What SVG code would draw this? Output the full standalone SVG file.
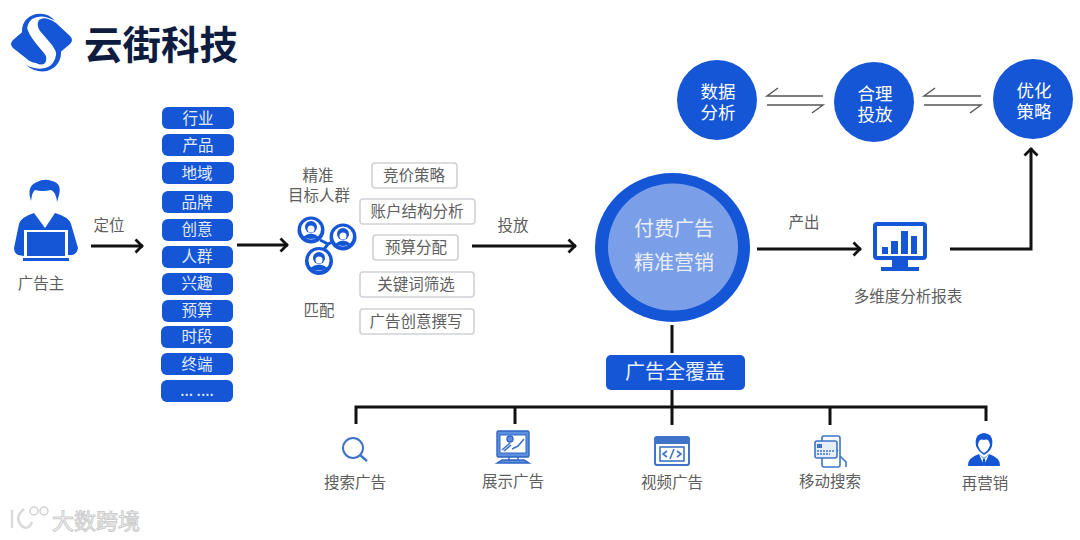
<svg xmlns="http://www.w3.org/2000/svg" width="1080" height="540" viewBox="0 0 1080 540">
<style>
text{font-family:"Noto Sans CJK SC","Noto Sans",sans-serif;text-anchor:middle}
.g{font-size:15.5px;fill:#5e5e5e}
.p{fill:#1456d6}
.pt{font-size:15.5px;fill:#e4ecfb}
.b{fill:#fff;stroke:#cfd2d6;stroke-width:1.6}
text.w{font-family:"Liberation Sans","Noto Sans CJK SC",sans-serif;font-size:17.5px;fill:#fff}
.c{fill:none;stroke:#111;stroke-width:3}
.t{fill:none;stroke:#555;stroke-width:1.4}
.i{fill:none;stroke:#3f73c8;stroke-width:1.6}
.l{fill:#5c8fe0;stroke:#2f66c4;stroke-width:1.4}
</style>
<defs>
<marker id="ah" markerUnits="userSpaceOnUse" markerWidth="16" markerHeight="16" refX="12.5" refY="8" orient="auto"><path d="M5 1.5 L11.5 8 L5 14.5" fill="none" stroke="#111" stroke-width="2.8"/></marker>
</defs>
<rect width="1080" height="540" fill="#fff"/>

<g id="logo">
<path class="p" d="M11 44 Q11 42 13 40 L27 28 Q29 34 32 38 Q36 44 44 53 Q48 58 45 63 Q42 66 36 63 Q30 62 27 59 L13 48 Q11 46 11 44Z"/>
<path class="p" d="M72 40 Q72 42 70 44 L57 55 Q55 49 52 45 Q47 39 40 31 Q36 25 39 20 Q43 17 48 19 Q52 20 56 23 L70 36 Q72 38 72 40Z"/>
<path class="p" d="M22 34 Q21 18 36 14 Q48 12 55 21 Q42 13 32 19 Q26 24 27 34Z"/>
<path class="p" d="M61 50 Q62 66 47 71 Q35 73 26 65 Q40 72 50 66 Q57 60 56 50Z"/>
<text x="161" y="59" font-size="38.5" font-weight="700" fill="#0e1c3f">云街科技</text>
</g>

<g id="connectors">
<path class="c" marker-end="url(#ah)" d="M91 246H143"/>
<path class="c" marker-end="url(#ah)" d="M237 245H288"/>
<path class="c" marker-end="url(#ah)" d="M472 246H576"/>
<path class="c" marker-end="url(#ah)" d="M757 249H861"/>
<path class="c" marker-end="url(#ah)" d="M950 249H1031V148"/>
<path class="c" d="M672 325V353M672 389V407M356 424V407H986V421M515 407V424M672 407V425M830 407V425"/>
<path class="t" d="M778 88L767 96H823M767 105H823L812 113"/>
<path class="t" d="M935 88L924 96H981M924 105H981L970 113"/>
</g>

<g id="advertiser">
<path class="p" d="M31 201 Q26 186 37 182 Q44 178 52 181 Q62 183 59 195 L57 202 Q56 192 51 190 Q42 192 35 190 Q32 192 31 201Z"/>
<path class="p" d="M14 248 L19 224 Q21 217 34 213 L45 228 L55 213 Q69 217 71 224 L78 248 Q77 254 72 255 L68 255 L68 230 L24 230 L24 256 L18 255 Q14 253 14 248Z"/>
<rect class="p" x="27" y="232" width="38" height="24"/>
<rect class="p" x="23" y="258" width="46" height="3"/>
<text class="g" x="41" y="289">广告主</text>
</g>
<text class="g" x="109" y="231">定位</text>

<g id="tags">
<rect class="p" x="162" y="107" width="72" height="22" rx="6"/><text class="pt" x="198" y="124">行业</text>
<rect class="p" x="162" y="134" width="72" height="22" rx="6"/><text class="pt" x="198" y="151">产品</text>
<rect class="p" x="162" y="162" width="72" height="22" rx="6"/><text class="pt" x="197" y="179">地域</text>
<rect class="p" x="162" y="191" width="71" height="22" rx="6"/><text class="pt" x="197" y="208">品牌</text>
<rect class="p" x="162" y="219" width="71" height="22" rx="6"/><text class="pt" x="197" y="235">创意</text>
<rect class="p" x="162" y="246" width="71" height="22" rx="6"/><text class="pt" x="197" y="262">人群</text>
<rect class="p" x="162" y="273" width="71" height="22" rx="6"/><text class="pt" x="197" y="289">兴趣</text>
<rect class="p" x="162" y="300" width="71" height="22" rx="6"/><text class="pt" x="197" y="316">预算</text>
<rect class="p" x="161" y="326" width="72" height="22" rx="6"/><text class="pt" x="197" y="342">时段</text>
<rect class="p" x="161" y="353" width="72" height="22" rx="6"/><text class="pt" x="197" y="370">终端</text>
<rect class="p" x="161" y="380" width="72" height="22" rx="6"/><text class="pt" x="197" y="396" font-size="14">... ....</text>
</g>

<g id="audience">
<text class="g" x="318" y="181">精准</text>
<text class="g" x="319" y="201">目标人群</text>
<path d="M320 240L328 244L336 240M328 244L322 252" stroke="#1456d6" stroke-width="3" fill="none"/>
<g id="person-a"><circle class="p" cx="311" cy="230" r="13.5"/><circle cx="311" cy="229.500" r="10" fill="#fff"/><circle class="p" cx="311" cy="227" r="6"/><circle cx="311" cy="229" r="3.500" fill="#fff"/><path class="p" d="M303 237Q311 230 319 237Q311 241 303 237Z"/></g>
<g id="person-b"><circle class="p" cx="343" cy="237" r="13.5"/><circle cx="343" cy="236.500" r="10" fill="#fff"/><circle class="p" cx="343" cy="234" r="6"/><circle cx="343" cy="236" r="3.500" fill="#fff"/><path class="p" d="M335 244Q343 237 351 244Q343 248 335 244Z"/></g>
<g id="person-c"><circle class="p" cx="319" cy="261" r="14"/><circle cx="319" cy="260.500" r="10.500" fill="#fff"/><circle class="p" cx="319" cy="258" r="6"/><circle cx="319" cy="260" r="3.500" fill="#fff"/><path class="p" d="M310 268Q319 261 328 268Q319 273 310 268Z"/></g>
<text class="g" x="319" y="316">匹配</text>
</g>

<g id="strategies">
<rect class="b" x="372" y="163" width="85" height="25" rx="3"/><text class="g" x="414" y="181">竞价策略</text>
<rect class="b" x="360" y="199" width="115" height="25" rx="3"/><text class="g" x="417" y="217">账户结构分析</text>
<rect class="b" x="373" y="235" width="85" height="25" rx="3"/><text class="g" x="416" y="253">预算分配</text>
<rect class="b" x="360" y="272" width="114" height="25" rx="3"/><text class="g" x="416" y="290">关键词筛选</text>
<rect class="b" x="360" y="309" width="114" height="25" rx="3"/><text class="g" x="416" y="327">广告创意撰写</text>
</g>
<text class="g" x="513" y="231">投放</text>

<g id="paid-ads">
<ellipse cx="672.500" cy="247.500" rx="77.500" ry="74.500" fill="#1456d6"/>
<ellipse cx="673" cy="247" rx="65" ry="63.500" fill="#7a9fe8"/>
<text x="674" y="236" font-size="20" fill="#e8eefb">付费广告</text>
<text x="674" y="270" font-size="20" fill="#e8eefb">精准营销</text>
</g>
<text class="g" x="804" y="228">产出</text>

<g id="report">
<rect x="875" y="224" width="50" height="34" rx="2" fill="#fff" stroke="#1456d6" stroke-width="4"/>
<rect class="p" x="882" y="247" width="6" height="7"/><rect class="p" x="891" y="241" width="7" height="13"/><rect class="p" x="901" y="231" width="7" height="23"/><rect class="p" x="911" y="236" width="6" height="18"/>
<rect class="p" x="892" y="260" width="16" height="7"/><rect class="p" x="881" y="267" width="38" height="4"/>
<text class="g" x="908" y="302">多维度分析报表</text>
</g>

<g id="data-analysis"><circle class="p" cx="717" cy="100" r="40"/><text class="w" x="718" y="98">数据</text><text class="w" x="718" y="119">分析</text></g>
<g id="placement"><circle class="p" cx="874" cy="102" r="40"/><text class="w" x="875" y="100">合理</text><text class="w" x="875" y="121">投放</text></g>
<g id="optimize"><circle class="p" cx="1033" cy="99" r="40"/><text class="w" x="1034" y="97">优化</text><text class="w" x="1034" y="118">策略</text></g>

<g id="coverage"><rect class="p" x="606" y="355" width="139" height="35" rx="5"/><text x="675" y="379" font-size="20" fill="#eaf0fc">广告全覆盖</text></g>

<g id="search"><circle cx="353" cy="448" r="10" fill="none" stroke="#3f73c8" stroke-width="2"/><path d="M360 455L367 461" stroke="#3f73c8" stroke-width="2.400"/><text class="g" x="355" y="488">搜索广告</text></g>
<g id="display">
<rect x="497" y="431" width="32" height="26" rx="1.500" class="l"/>
<rect x="500" y="435" width="26" height="18" fill="#fff" stroke="#2f66c4"/>
<circle cx="510" cy="439" r="3" class="l"/>
<path d="M502 450L510 443M504 451L511 445M512 449L518 446L524 439" class="i"/>
<path d="M509 457V460M518 457V460M497 463L502 460H524L529 463Z" class="l"/>
<text class="g" x="513" y="487">展示广告</text>
</g>
<g id="video">
<rect x="655" y="437" width="34" height="28" rx="2" fill="#fff" stroke="#3f73c8" stroke-width="2"/>
<path d="M655 441H689" stroke="#3f73c8" stroke-width="6"/>
<rect x="660" y="447" width="24" height="14" class="i"/>
<path d="M667 451L663 454L667 457M677 451L681 454L677 457M674 449L670 459" class="i"/>
<text class="g" x="672" y="488">视频广告</text>
</g>
<g id="mobile">
<rect x="822" y="436" width="18" height="31" rx="2" fill="#fff" stroke="#3f73c8" stroke-width="1.600"/>
<path d="M840 456L846 462V467M832 456L838 450" class="i"/>
<rect x="815" y="441" width="22" height="17" rx="2" fill="#e6eefb" stroke="#3f73c8" stroke-width="1.600"/>
<rect x="817" y="444" width="5" height="4" fill="#3f73c8"/>
<path d="M817 451H835M817 454H830" class="i" stroke-dasharray="2 1"/>
<text class="g" x="830" y="487">移动搜索</text>
</g>
<g id="remarketing">
<path class="p" d="M976 446Q974 434 984 433Q994 434 992 446Q991 451 984 455Q978 451 976 446Z"/>
<path d="M978 445Q979 438 984 440Q989 438 990 445Q989 450 984 453Q979 450 978 445Z" fill="#fff"/>
<path class="p" d="M968 466Q967 458 979 454L984 458L989 454Q1001 458 1000 466Z"/>
<path d="M979 454L984 459L989 454L984 466Z" fill="#fff"/>
<path class="p" d="M983 459H985L986 465H982Z"/>
<text class="g" x="985" y="489">再营销</text>
</g>

<g id="watermark">
<path d="M12 510V528M24 509Q13 518 23 527Q29 530 32 522" fill="none" stroke-width="2.500" stroke="#dadada"/>
<circle cx="34" cy="511" r="4" fill="none" stroke="#d2d2d2" stroke-width="1.500"/><circle cx="44" cy="511" r="4" fill="none" stroke="#d2d2d2" stroke-width="1.500"/>
<text x="96" y="529" font-size="22" fill="#fff" stroke="#cdcdcd" stroke-width="1">大数跨境</text>
</g>
</svg>
